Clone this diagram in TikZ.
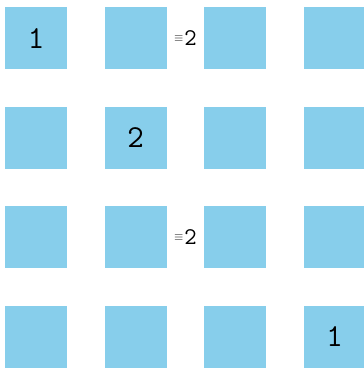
\documentclass[tikz,border=0pt]{standalone}
\usepackage{fontspec}
\usetikzlibrary{positioning,calc}
\definecolor{cellblue}{RGB}{135,206,235}
\newcommand{\smallequiv}{%
  \raisebox{4.3pt}{\fontsize{12}{12}\selectfont$\equiv$}\kern1pt}
\tikzset{
  cellbox/.style={
    fill=cellblue, draw=none, minimum size=62pt,
    inner sep=0pt, anchor=north west
  },
  cellnum/.style={
    font=\fontsize{32}{32}\selectfont\ttfamily, inner sep=0pt
  },
  equivlabel/.style={
    font=\fontsize{24}{24}\selectfont\ttfamily, inner sep=0pt
  },
}
\begin{document}
\begin{tikzpicture}[x=1pt,y=-1pt]
  \useasboundingbox (0,0) rectangle (364,370);

  %% Cells
  \foreach \r/\yy in {1/7,2/106.5,3/206,4/305.5}
    \foreach \c/\xx in {1/5,2/104.5,3/204,4/303.5}
      \node[cellbox] (c\r\c) at (\xx,\yy) {};

  %% Numbers
  \node[cellnum] (n11) at (c11.center) {1};
  \node[cellnum] (n22) at (c22.center) {2};
  \node[cellnum] (n44) at (c44.center) {1};

  %% Equivalences
  \node[equivlabel] (e1) at ($(c12.east)!0.5!(c13.west)$) {\smallequiv2};
  \node[equivlabel] (e3) at ($(c32.east)!0.5!(c33.west)$) {\smallequiv2};

\end{tikzpicture}
\end{document}
